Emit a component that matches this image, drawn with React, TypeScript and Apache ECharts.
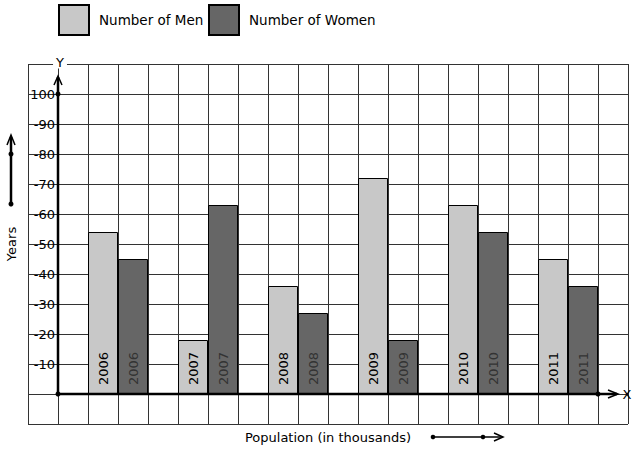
import React, { useEffect, useRef } from "react";
import * as echarts from "echarts";

const years = [2006, 2007, 2008, 2009, 2010, 2011];
const menCounts = [54, 18, 36, 72, 63, 45];
const womenCounts = [45, 63, 27, 18, 54, 36];
const yTicks = [10, 20, 30, 40, 50, 60, 70, 80, 90, 100];
const seriesNames = ["Number of Men", "Number of Women"];

// slot layout: one padding column left of the Y axis, then for each year: gap, men, women; then a final gap
const slotKinds: string[] = ["pad"];
const slotYear: (number | null)[] = [null];
const slotIndex: number[] = [-1];
years.forEach((y, i) => {
  slotKinds.push("gap", "men", "women");
  slotYear.push(null, y, y);
  slotIndex.push(-1, i, i);
});
slotKinds.push("gap");
slotYear.push(null);
slotIndex.push(-1);

const categories = slotKinds.map((k, i) => `${k}-${i}`);
const menData = slotKinds.map((k, i) => (k === "men" ? menCounts[slotIndex[i]] : "-"));
const womenData = slotKinds.map((k, i) => (k === "women" ? womenCounts[slotIndex[i]] : "-"));

const FONT = "DejaVu Sans";

export default function App() {
  const ref = useRef<HTMLDivElement>(null);
  useEffect(() => {
    document.body.style.margin = "0";
    const chart = echarts.init(ref.current!, null, { renderer: "svg" });
    const labelBase = {
      show: true,
      position: "insideBottom",
      rotate: 90,
      align: "left",
      verticalAlign: "middle",
      distance: 9,
      fontSize: 13,
      fontFamily: FONT,
      formatter: (p: any) => String(slotYear[p.dataIndex] ?? ""),
    };
    const legendBase = {
      itemWidth: 30,
      itemHeight: 30,
      icon: "rect",
      padding: 0,
      textStyle: { fontSize: 13.5, color: "#000", fontFamily: FONT, padding: [0, 0, 0, 5] },
    };
    chart.setOption({
      animation: false,
      textStyle: { fontFamily: FONT },
      legend: [
        { ...legendBase, data: [seriesNames[0]], left: 58, top: 4 },
        { ...legendBase, data: [seriesNames[1]], left: 208, top: 4 },
      ],
      grid: { left: 28, right: 8, top: 64, bottom: 26, containLabel: false, outerBoundsMode: "none" },
      xAxis: {
        type: "category",
        data: categories,
        boundaryGap: true,
        axisLine: { show: false },
        axisTick: { show: false },
        axisLabel: { show: false },
        splitLine: { show: true, interval: 0, lineStyle: { color: "#333", width: 1 } },
        name: "Population (in thousands)",
        nameLocation: "middle",
        nameGap: 7,
        nameTextStyle: { fontSize: 13, color: "#000", fontFamily: FONT },
      },
      yAxis: {
        type: "value",
        min: -10,
        max: 110,
        interval: 10,
        offset: -30,
        axisLine: { show: false },
        axisTick: { show: false },
        axisLabel: {
          margin: 3,
          fontSize: 13,
          color: "#000",
          fontFamily: FONT,
          formatter: (v: number) => {
            if (!yTicks.includes(v)) return "";
            return v === 100 ? String(v) : "-" + v;
          },
        },
        splitLine: { show: true, lineStyle: { color: "#333", width: 1 } },
        name: "Years",
        nameLocation: "middle",
        nameRotate: 90,
        nameGap: 40,
        nameTextStyle: { fontSize: 13, color: "#000", fontFamily: FONT },
      },
      series: [
        {
          name: seriesNames[0],
          type: "bar",
          data: menData,
          barWidth: "100%",
          barGap: "-100%",
          itemStyle: { color: "#c8c8c8", borderColor: "#000", borderWidth: 1 },
          label: { ...labelBase, color: "#000" },
        },
        {
          name: seriesNames[1],
          type: "bar",
          data: womenData,
          barWidth: "100%",
          barGap: "-100%",
          itemStyle: { color: "#666666", borderColor: "#000", borderWidth: 1 },
          label: { ...labelBase, color: "#333" },
        },
      ],
      graphic: [
        // Y axis with arrow
        { type: "line", shape: { x1: 58, y1: 394, x2: 58, y2: 77 }, style: { stroke: "#000", lineWidth: 2.5 }, z: 100 },
        { type: "polyline", shape: { points: [[54, 85], [58, 76], [62, 85]] }, style: { stroke: "#000", lineWidth: 1.5, fill: null }, z: 100 },
        { type: "circle", shape: { cx: 58, cy: 94, r: 2.5 }, style: { fill: "#000" }, z: 100 },
        // X axis with arrow
        { type: "line", shape: { x1: 58, y1: 394, x2: 617, y2: 394 }, style: { stroke: "#000", lineWidth: 2.5 }, z: 100 },
        { type: "polyline", shape: { points: [[608, 390], [618, 394], [608, 398]] }, style: { stroke: "#000", lineWidth: 1.5, fill: null }, z: 100 },
        { type: "circle", shape: { cx: 58, cy: 394, r: 2.5 }, style: { fill: "#000" }, z: 100 },
        { type: "circle", shape: { cx: 598, cy: 394, r: 2.5 }, style: { fill: "#000" }, z: 100 },
        {
          type: "text",
          x: 60,
          y: 62,
          style: { text: "Y", fontSize: 13, fontFamily: FONT, fill: "#000", align: "center", verticalAlign: "middle", backgroundColor: "#fff", padding: [0, 3] },
          z: 100,
        },
        {
          type: "text",
          x: 627,
          y: 394,
          style: { text: "X", fontSize: 13, fontFamily: FONT, fill: "#000", align: "center", verticalAlign: "middle" },
          z: 100,
        },
        // left decorative arrow
        { type: "line", shape: { x1: 11, y1: 204, x2: 11, y2: 137 }, style: { stroke: "#000", lineWidth: 2.5 } },
        { type: "polyline", shape: { points: [[7, 145], [11, 135], [15, 145]] }, style: { stroke: "#000", lineWidth: 1.5, fill: null } },
        { type: "circle", shape: { cx: 11, cy: 154, r: 2.5 }, style: { fill: "#000" } },
        { type: "circle", shape: { cx: 11, cy: 204, r: 2.5 }, style: { fill: "#000" } },
        // bottom decorative arrow
        { type: "line", shape: { x1: 433, y1: 437, x2: 502, y2: 437 }, style: { stroke: "#000", lineWidth: 1.5 } },
        { type: "polyline", shape: { points: [[494, 433], [503, 437], [494, 441]] }, style: { stroke: "#000", lineWidth: 1.5, fill: null } },
        { type: "circle", shape: { cx: 433, cy: 437, r: 2.3 }, style: { fill: "#000" } },
        { type: "circle", shape: { cx: 483, cy: 437, r: 2.3 }, style: { fill: "#000" } },
      ],
    });
    return () => chart.dispose();
  }, []);
  return <div ref={ref} style={{ width: 636, height: 450 }} />;
}
